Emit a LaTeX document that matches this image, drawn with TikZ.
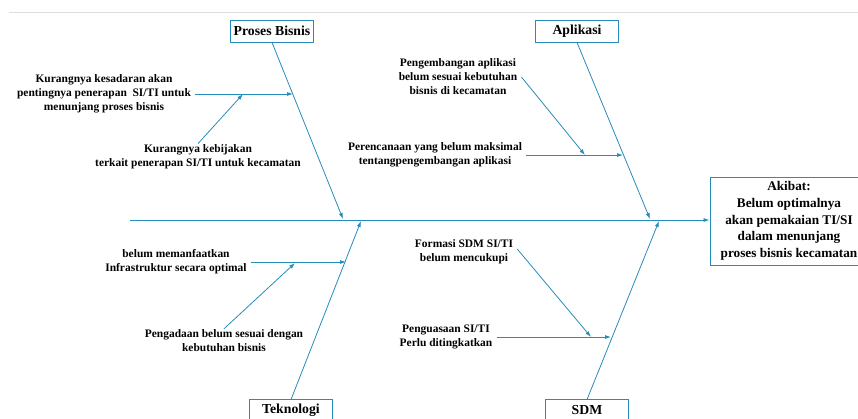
\documentclass[tikz,border=0pt]{standalone}
\usepackage{fontspec}
\setmainfont{Liberation Serif}
\usetikzlibrary{positioning,arrows.meta}
\definecolor{bonecol}{RGB}{38,140,186}

\begin{document}
\begin{tikzpicture}[x=1bp,y=-1bp,
    catbox/.style={draw=bonecol,line width=0.9bp,fill=white,minimum width=83bp,minimum height=22bp,inner sep=2bp,font=\bfseries\fontsize{13.8}{15}\selectfont},
    cause/.style={align=center,inner sep=1bp,font=\bfseries\fontsize{11.5}{14}\selectfont},
    arr/.style={draw=bonecol,line width=0.8bp,-{Latex[length=6bp,width=4bp]}}]
    \useasboundingbox (0,0) rectangle (858,418);
    % top rule
    \draw[black!13,line width=0.8bp] (9,12) -- (858,12);

    % Categories and effect
    \node[catbox] (proses) at (272,31) {Proses Bisnis};
    \node[catbox] (aplikasi) at (577,31) {Aplikasi};
    \node[catbox] (teknologi) at (291,410) {Teknologi};
    \node[catbox] (sdm) at (587,410) {SDM};
    \node[catbox,align=center,minimum width=158bp,minimum height=88bp,font=\bfseries\fontsize{13.3}{16.7}\selectfont] (akibat) at (789,221)
        {Akibat:\\Belum optimalnya\\akan pemakaian TI/SI\\dalam menunjang\\proses bisnis kecamatan};

    % Spine
    \coordinate (tail) at (130,220);
    \draw[arr] (tail) -- (tail -| akibat.west);

    % Bones
    \coordinate (prosesend) at (343,219);
    \coordinate (aplikasiend) at (650,219);
    \coordinate (teknologiend) at (361,221);
    \coordinate (sdmend) at (659,221);
    \draw[arr] (proses.south) -- (prosesend);
    \draw[arr] (aplikasi.south) -- (aplikasiend);
    \draw[arr] ([yshift=-1bp]teknologi.north) -- (teknologiend);
    \draw[arr] ([yshift=-1bp]sdm.north) -- (sdmend);

    % Proses Bisnis causes
    \node[cause] (pb1) at (104,94) {Kurangnya kesadaran akan\\pentingnya penerapan\ \ SI/TI untuk\\menunjang proses bisnis};
    \node[cause] (pb2) at (198,157) {Kurangnya kebijakan\\terkait penerapan SI/TI untuk kecamatan};
    \coordinate (pb1end) at (293,94);
    \coordinate (pb1mid) at (243,94);
    \draw[arr] ([xshift=3bp]pb1.east) -- (pb1end);
    \draw[arr] (pb2.north) -- (pb1mid);

    % Aplikasi causes
    \node[cause] (ap1) at (458,77) {Pengembangan aplikasi\\belum sesuai kebutuhan\\bisnis di kecamatan};
    \node[cause] (ap2) at (435,155) {Perencanaan yang belum maksimal\\tentangpengembangan aplikasi};
    \coordinate (ap2end) at (623,155);
    \coordinate (ap2mid) at (585,155);
    \draw[arr] ([xshift=3bp]ap2.east) -- (ap2end);
    \draw[arr] ([xshift=3bp]ap1.east) -- (ap2mid);

    % Teknologi causes
    \node[cause] (tk1) at (176,262) {belum memanfaatkan\\Infrastruktur secara optimal};
    \node[cause] (tk2) at (224,341) {Pengadaan belum sesuai dengan\\kebutuhan bisnis};
    \coordinate (tk1end) at (346,262);
    \coordinate (tk1mid) at (295,263);
    \draw[arr] ([xshift=3bp]tk1.east) -- (tk1end);
    \draw[arr] (tk2.north) -- (tk1mid);

    % SDM causes
    \node[cause] (sd1) at (464,252) {Formasi SDM SI/TI\\belum mencukupi};
    \node[cause] (sd2) at (446,337) {Penguasaan SI/TI\\Perlu ditingkatkan};
    \coordinate (sd2end) at (611,337);
    \coordinate (sd2mid) at (591,337);
    \draw[arr] ([xshift=3bp]sd2.east) -- (sd2end);
    \draw[arr] ([xshift=3bp,yshift=3bp]sd1.east) -- (sd2mid);
\end{tikzpicture}
\end{document}
